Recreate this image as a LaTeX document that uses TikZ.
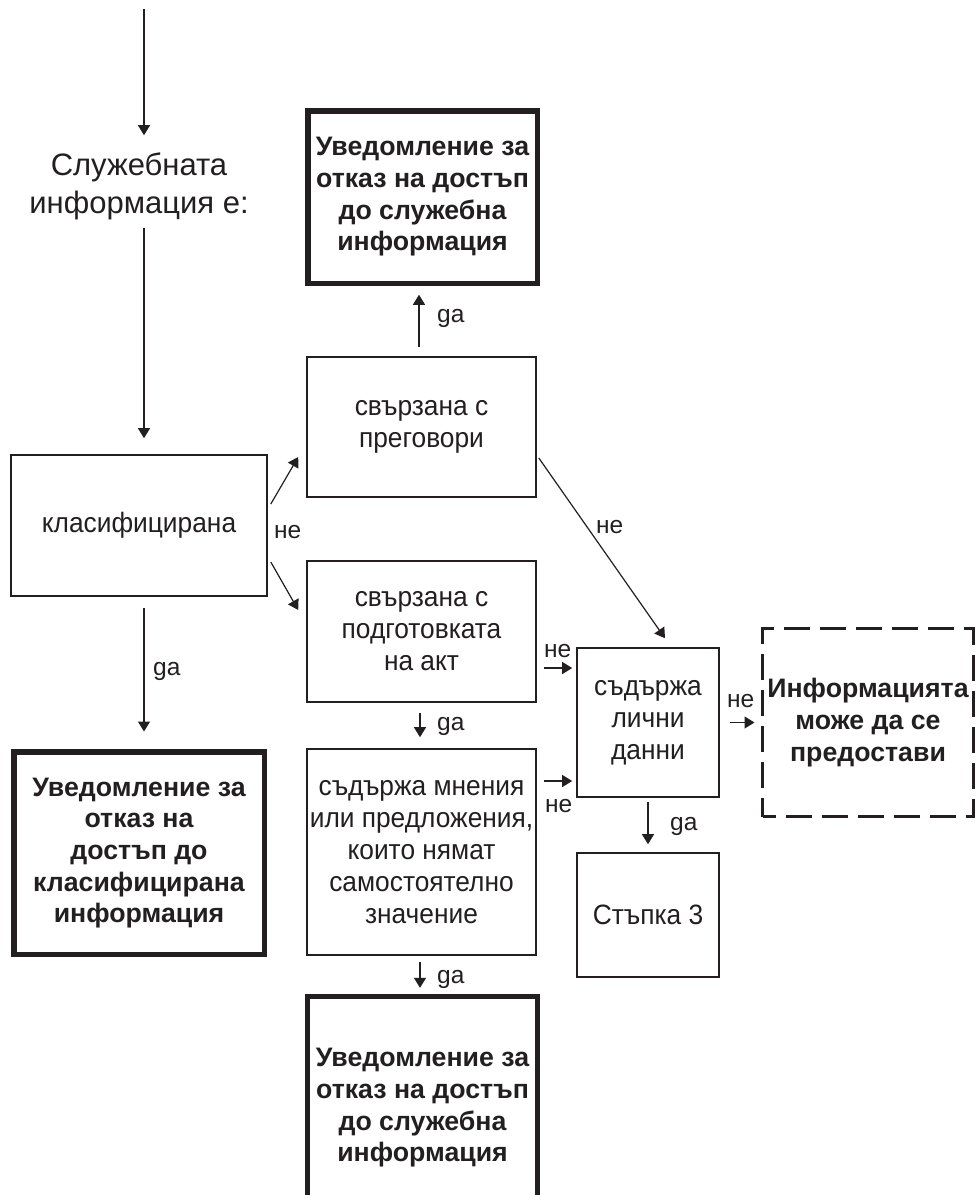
\documentclass[tikz,border=0pt]{standalone}
\usepackage{fontspec}
\setmainfont{Liberation Sans}
\newfontfamily\boxfont[FakeStretch=0.94]{Liberation Sans}
\usetikzlibrary{arrows.meta,calc}
\definecolor{ink}{RGB}{35,31,32}
\begin{document}
\begin{tikzpicture}[x=1pt,y=1pt,
  every node/.style={text=ink, inner sep=0pt, align=center},
  txt/.style={font=\boxfont\fontsize{28}{32}\selectfont},
  boldtxt/.style={font=\bfseries\fontsize{26.7}{31.7}\selectfont},
  lab/.style={font=\fontsize{24.5}{28}\selectfont, anchor=base west},
  plainbox/.style={draw=ink, line width=1.6pt, txt},
  boldbox/.style={draw=ink, line width=5.5pt, boldtxt},
  dashbox/.style={draw=ink, line width=3pt, dash pattern=on 26pt off 10pt, dash phase=13pt, boldtxt},
  conn/.style={draw=ink, line width=1.2pt, -{Triangle[length=10pt,width=12pt]}},
  heavy/.style={draw=ink, line width=5.5pt}
]
\fill[white] (0,0) rectangle (976,-1195);
\useasboundingbox (0,0) rectangle (976,-1195);
\coordinate (start) at (144,-9);
\coordinate (pagebottom) at (0,-1195);

% nodes
\node[font=\fontsize{31}{38}\selectfont] (sluzh) at (139,-186) {Служебната\\информация е:};
\node[plainbox, minimum width=256, minimum height=141] (klas) at (139,-525.5) {класифицирана};
\node[boldbox, minimum width=250.5, minimum height=202.5] (kbold) at (139,-853)
  {Уведомление за\\отказ на\\достъп до\\класифицирана\\информация};
\node[boldbox, minimum width=229.5, minimum height=172.5] (topbold) at (422.5,-197)
  {Уведомление за\\отказ на достъп\\до служебна\\информация};
\node[plainbox, minimum width=229, minimum height=140] (preg) at (421.5,-427) {свързана с\\преговори};
\node[plainbox, minimum width=229, minimum height=141] (podg) at (421.5,-631.5) {свързана с\\подготовката\\на акт};
\node[plainbox, minimum width=229, minimum height=206] (mnen) at (421.5,-852)
  {съдържа мнения\\или предложения,\\които нямат\\самостоятелно\\значение};
\node[boldtxt, minimum width=229.5, minimum height=222.5] (botbold) at (422.5,-1108)
  {Уведомление за\\отказ на достъп\\до служебна\\информация};
\node[plainbox, minimum width=142, minimum height=149] (lich) at (648,-722.5) {съдържа\\лични\\данни};
\node[plainbox, minimum width=142, minimum height=124] (step3) at (648,-915) {Стъпка 3};
\node[dashbox, minimum width=211, minimum height=188] (info) at (868,-722.5)
  {Информацията\\може да се\\предостави};

% open bottom box
\draw[heavy] (botbold.north west |- pagebottom) -- (botbold.north west) -- (botbold.north east) -- (botbold.north east |- pagebottom);

% connectors
\draw[conn, shorten >=17pt] (start) -- (start |- sluzh.north);
\draw[conn, shorten <=8pt, shorten >=16pt] (start |- sluzh.south) -- (start |- klas.north);
\draw[conn, shorten <=11pt, shorten >=17.5pt] (start |- klas.south) -- (start |- kbold.north);
\draw[conn] ([shift={(3,21.5)}]klas.east) -- ([shift={(-8,-30)}]preg.west);
\draw[conn] ([shift={(3,-36.5)}]klas.east) -- ([shift={(-8,21.5)}]podg.west);
\draw[conn, shorten <=9pt, shorten >=8.75pt] ([xshift=-2.5]preg.north) -- ([xshift=-2.5]preg.north |- topbold.south);
\draw[conn] ([shift={(2,-31)}]preg.east) -- ([shift={(17,9)}]lich.north);
\draw[conn, shorten <=10pt, shorten >=11pt] ([xshift=-1.5]podg.south) -- ([xshift=-1.5]podg.south |- mnen.north);
\draw[conn, shorten <=6pt, shorten >=8.75pt] ([xshift=-1.5]mnen.south) -- ([xshift=-1.5]mnen.south |- botbold.north);
\draw[conn] ([shift={(-32,54.5)}]lich.west) -- ([shift={(-4,54.5)}]lich.west);
\draw[conn] ([shift={(-32,-58.5)}]lich.west) -- ([shift={(-4,-58.5)}]lich.west);
\draw[conn, shorten <=10pt, shorten >=6.5pt] (lich.east) -- (info.west);
\draw[conn, shorten <=4pt, shorten >=8pt] (lich.south) -- (step3.north);

% labels
\node[lab] (l1) at (153,-675) {ga};
\node[lab] (l2) at (437,-322) {ga};
\node[lab] (l3) at (274,-538) {не};
\node[lab] (l4) at (596,-533) {не};
\node[lab] (l5) at (437,-730) {ga};
\node[lab] (l6) at (437,-983) {ga};
\node[lab] (l7) at (544,-657) {не};
\node[lab] (l8) at (545,-812) {не};
\node[lab] (l9) at (727,-707) {не};
\node[lab] (l10) at (670,-830) {ga};
\end{tikzpicture}
\end{document}
